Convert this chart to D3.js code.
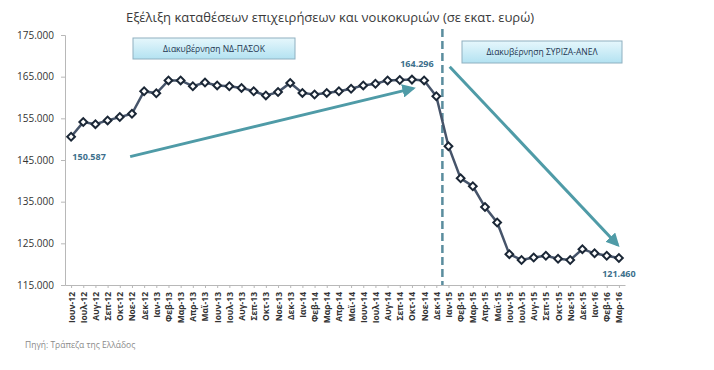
<!DOCTYPE html>
<html>
<head>
<meta charset="utf-8">
<script src="https://cdn.jsdelivr.net/npm/d3@7"></script>
<style>
  body { margin: 0; background: #fff; }
  svg { display: block; }
</style>
</head>
<body>
<div id="chart"></div>
<script>
// months on the x axis
const months = [
  "Ιουν-12", "Ιουλ-12", "Αυγ-12", "Σεπ-12", "Οκτ-12", "Νοε-12", "Δεκ-12",
  "Ιαν-13", "Φεβ-13", "Μαρ-13", "Απρ-13", "Μαϊ-13", "Ιουν-13", "Ιουλ-13", "Αυγ-13", "Σεπ-13", "Οκτ-13", "Νοε-13", "Δεκ-13",
  "Ιαν-14", "Φεβ-14", "Μαρ-14", "Απρ-14", "Μαϊ-14", "Ιουν-14", "Ιουλ-14", "Αυγ-14", "Σεπ-14", "Οκτ-14", "Νοε-14", "Δεκ-14",
  "Ιαν-15", "Φεβ-15", "Μαρ-15", "Απρ-15", "Μαϊ-15", "Ιουν-15", "Ιουλ-15", "Αυγ-15", "Σεπ-15", "Οκτ-15", "Νοε-15", "Δεκ-15",
  "Ιαν-16", "Φεβ-16", "Μαρ-16"
];

// deposits, thousand million euro
const deposits = [
  150.587, 154.1, 153.6, 154.5, 155.3, 156.1, 161.5,
  161.0, 164.1, 164.1, 162.7, 163.6, 162.9, 162.7, 162.3, 161.5, 160.5, 161.3, 163.5,
  161.1, 160.7, 161.1, 161.5, 162.1, 162.9, 163.3, 164.1, 164.2, 164.296, 164.1, 160.3,
  148.3, 140.6, 138.7, 133.7, 130.0, 122.4, 121.0, 121.6, 122.0, 121.3, 121.0, 123.6,
  122.6, 122.0, 121.46
];

const yTicks = [115, 125, 135, 145, 155, 165, 175];

// labelled points: [index, text]
const pointLabels = [[0, "150.587"], [28, "164.296"], [45, "121.460"]];

// trend arrows: [fromIndex, fromValue, toIndex, toValue]
const trendArrows = [
  [4.85, 145.8, 28.1, 162.2],
  [31.1, 167.4, 44.9, 124.6]
];

// change of government, between Dec-14 and Jan-15
const govChange = 30.5;

const width = 714, height = 370;
const fontFamily = "'Open Sans', 'Liberation Sans', Arial, sans-serif";

const svg = d3.select("#chart").append("svg")
  .attr("width", width)
  .attr("height", height)
  .attr("font-family", fontFamily);

const x = d3.scaleLinear().domain([-0.5, months.length - 0.5]).range([65, 625]);
const y = d3.scaleLinear().domain([115, 175]).range([285, 35]);

const defs = svg.append("defs");

const grad = defs.append("linearGradient")
  .attr("id", "boxFill")
  .attr("x1", 0).attr("y1", 0).attr("x2", 0).attr("y2", 1);
grad.append("stop").attr("offset", "0%").attr("stop-color", "#e6f7fc");
grad.append("stop").attr("offset", "100%").attr("stop-color", "#b3e2f1");

defs.append("marker")
  .attr("id", "arrowHead")
  .attr("viewBox", "0 0 10 10")
  .attr("refX", 8)
  .attr("refY", 5)
  .attr("markerWidth", 4.5)
  .attr("markerHeight", 4.5)
  .attr("orient", "auto")
  .append("path")
  .attr("d", "M0,0L10,5L0,10z")
  .attr("fill", "#4f9ba7");

// title
svg.append("text")
  .attr("x", 330)
  .attr("y", 22)
  .attr("text-anchor", "middle")
  .attr("font-size", 13)
  .attr("fill", "#3a3a3a")
  .text("Εξέλιξη καταθέσεων επιχειρήσεων και νοικοκυριών (σε εκατ. ευρώ)");

// y axis
const yAxis = svg.append("g")
  .attr("transform", `translate(${x.range()[0]},0)`)
  .call(d3.axisLeft(y)
    .tickValues(yTicks)
    .tickSize(4)
    .tickPadding(7)
    .tickFormat(d => d3.format(".3f")(d)));
yAxis.select(".domain").attr("stroke", "#b8b8b8");
yAxis.selectAll(".tick line").attr("stroke", "#b8b8b8");
yAxis.selectAll(".tick text")
  .attr("font-size", 10)
  .attr("font-family", fontFamily)
  .attr("fill", "#333");

// x axis
const xAxis = svg.append("g")
  .attr("transform", `translate(0,${y.range()[0]})`)
  .call(d3.axisBottom(x)
    .tickValues(d3.range(months.length))
    .tickSize(3)
    .tickSizeOuter(0)
    .tickFormat(i => months[i]));
xAxis.select(".domain").attr("stroke", "#b8b8b8");
xAxis.selectAll(".tick line").attr("stroke", "#b8b8b8");
xAxis.selectAll(".tick text")
  .attr("font-size", 8.5)
  .attr("font-weight", "bold")
  .attr("font-family", fontFamily)
  .attr("fill", "#333")
  .attr("text-anchor", "end")
  .attr("transform", "rotate(-90)")
  .attr("x", -7)
  .attr("y", 0)
  .attr("dy", "0.35em");

// government change marker
svg.append("line")
  .attr("x1", x(govChange))
  .attr("x2", x(govChange))
  .attr("y1", 29)
  .attr("y2", y.range()[0])
  .attr("stroke", "#5a8d9e")
  .attr("stroke-width", 2.5)
  .attr("stroke-dasharray", "8,4");

// government boxes
const boxes = [
  { x: 133, y: 38, w: 162, h: 21, text: "Διακυβέρνηση ΝΔ-ΠΑΣΟΚ" },
  { x: 462, y: 41, w: 160, h: 22, text: "Διακυβέρνηση ΣΥΡΙΖΑ-ΑΝΕΛ" }
];
const boxG = svg.selectAll("g.govbox")
  .data(boxes)
  .enter()
  .append("g")
  .attr("class", "govbox");
boxG.append("rect")
  .attr("x", d => d.x)
  .attr("y", d => d.y)
  .attr("width", d => d.w)
  .attr("height", d => d.h)
  .attr("fill", "url(#boxFill)")
  .attr("stroke", "#8fb0c0")
  .attr("stroke-width", 1);
boxG.append("text")
  .attr("x", d => d.x + d.w / 2)
  .attr("y", d => d.y + d.h / 2 + 3)
  .attr("text-anchor", "middle")
  .attr("font-size", 8.5)
  .attr("fill", "#1e3550")
  .text(d => d.text);

// trend arrows
svg.selectAll("line.trend")
  .data(trendArrows)
  .enter()
  .append("line")
  .attr("class", "trend")
  .attr("x1", d => x(d[0]))
  .attr("y1", d => y(d[1]))
  .attr("x2", d => x(d[2]))
  .attr("y2", d => y(d[3]))
  .attr("stroke", "#4f9ba7")
  .attr("stroke-width", 3)
  .attr("marker-end", "url(#arrowHead)");

// deposits line
const line = d3.line()
  .x((d, i) => x(i))
  .y(d => y(d));

svg.append("path")
  .datum(deposits)
  .attr("d", line)
  .attr("fill", "none")
  .attr("stroke", "#46546a")
  .attr("stroke-width", 2.5);

// diamond markers
const diamond = d3.symbol().type(d3.symbolSquare).size(30);
svg.selectAll("path.marker")
  .data(deposits)
  .enter()
  .append("path")
  .attr("class", "marker")
  .attr("d", diamond)
  .attr("transform", (d, i) => `translate(${x(i)},${y(d)}) rotate(45)`)
  .attr("fill", "#fff")
  .attr("stroke", "#1b2736")
  .attr("stroke-width", 2);

// value labels
const labelOffset = { 0: [18, 23], 28: [5, -13], 45: [0, 19] };
svg.selectAll("text.pointlabel")
  .data(pointLabels)
  .enter()
  .append("text")
  .attr("class", "pointlabel")
  .attr("x", d => x(d[0]) + labelOffset[d[0]][0])
  .attr("y", d => y(deposits[d[0]]) + labelOffset[d[0]][1])
  .attr("text-anchor", "middle")
  .attr("font-size", 9)
  .attr("font-weight", "bold")
  .attr("fill", "#3d6f8c")
  .text(d => d[1]);

// source
svg.append("text")
  .attr("x", 25)
  .attr("y", 348)
  .attr("font-size", 8.5)
  .attr("fill", "#8a8a8a")
  .text("Πηγή: Τράπεζα της Ελλάδος");
</script>
</body>
</html>
